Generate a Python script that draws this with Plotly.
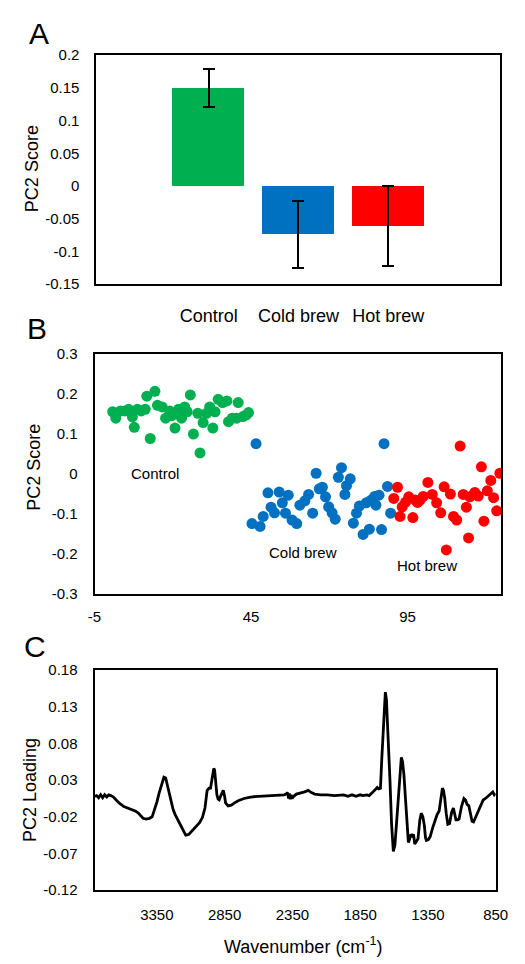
import plotly.graph_objects as go

# ---------------- Panel A data ----------------
categories = ["Control", "Cold brew", "Hot brew"]
bar_means = [0.150, -0.074, -0.061]
bar_errors = [0.029, 0.051, 0.061]
bar_colors = ["#00B050", "#0070C0", "#FF0000"]
a_ytickvals = [0.2, 0.15, 0.1, 0.05, 0, -0.05, -0.1, -0.15]
a_yticktext = ["0.2", "0.15", "0.1", "0.05", "0", "-0.05", "-0.1", "-0.15"]

# ---------------- Panel B data ----------------
control_x = [0.8, 1.8, 3.3, 4.7, 5.9, 7.1, 7.7, 8.7, 9.9, 11.2, 11.7, 12.8, 14.3, 15.1, 16.6, 17.7,
             19.0, 19.7, 20.7, 21.8, 22.8, 23.8, 24.6, 25.6, 26.6, 28.0, 28.7, 29.7, 30.8, 31.8,
             32.8, 33.5, 34.5, 35.9, 37.3, 37.8, 39.0, 40.4, 40.9, 42.4, 43.5, 44.2]
control_y = [0.155, 0.139, 0.157, 0.157, 0.161, 0.142, 0.116, 0.161, 0.157, 0.161, 0.194, 0.088,
             0.206, 0.171, 0.167, 0.139, 0.157, 0.145, 0.114, 0.161, 0.139, 0.167, 0.155, 0.197,
             0.099, 0.151, 0.052, 0.128, 0.151, 0.167, 0.114, 0.155, 0.186, 0.178, 0.182, 0.130,
             0.139, 0.139, 0.178, 0.143, 0.147, 0.153]
cold_x = [45.3, 46.6, 47.9, 48.9, 50.4, 51.4, 52.5, 54.0, 55.0, 56.0, 56.9, 58.1, 59.6, 60.6, 62.2,
          63.4, 64.7, 65.8, 66.8, 67.8, 68.8, 69.8, 70.9, 71.9, 72.9, 73.9, 75.0, 75.5, 76.7, 77.7,
          78.7, 79.6, 80.8, 81.8, 82.8, 83.4, 84.5, 84.9, 85.9, 86.7, 87.5, 88.6, 89.6]
cold_y = [-0.125, 0.075, -0.132, -0.107, -0.048, -0.084, -0.098, -0.046, -0.073, -0.099, -0.054,
          -0.116, -0.125, -0.079, -0.068, -0.052, -0.099, 0.001, -0.038, -0.034, -0.058, -0.083,
          -0.098, -0.114, -0.009, 0.015, -0.052, -0.030, -0.013, -0.124, -0.099, -0.081, -0.152,
          -0.073, -0.139, -0.066, -0.057, -0.079, -0.054, -0.140, 0.075, -0.032, -0.099]
hot_x = [90.6, 91.8, 92.6, 93.3, 94.4, 95.4, 96.7, 97.5, 98.2, 99.0, 100.0, 101.5, 102.9, 104.3,
         105.6, 106.7, 107.4, 108.7, 109.7, 110.7, 111.8, 112.8, 113.8, 114.5, 114.9, 116.5,
         117.6, 118.6, 119.4, 120.5, 121.6, 122.5, 123.5, 124.5]
hot_y = [-0.062, -0.034, -0.107, -0.083, -0.071, -0.058, -0.110, -0.066, -0.072, -0.066, -0.057,
         -0.022, -0.052, -0.073, -0.098, -0.033, -0.191, -0.051, -0.107, -0.116, 0.069, -0.052,
         -0.084, -0.161, -0.058, -0.047, -0.056, 0.017, -0.119, -0.043, -0.017, -0.060, -0.093,
         0.001]
b_xtickvals = [-5, 45, 95]
b_xticktext = ["-5", "45", "95"]
b_ytickvals = [0.3, 0.2, 0.1, 0, -0.1, -0.2, -0.3]
b_yticktext = ["0.3", "0.2", "0.1", "0", "-0.1", "-0.2", "-0.3"]
group_labels = ["Control", "Cold brew", "Hot brew"]
group_label_x = [14.3, 61.6, 101.1]
group_label_y = [0.0, -0.197, -0.229]

# ---------------- Panel C data ----------------
wavenumber = [3810, 3795, 3780, 3765, 3750, 3735, 3720, 3705, 3690, 3670, 3650, 3629, 3594, 3560,
              3535, 3510, 3487, 3465, 3452, 3430, 3405, 3385, 3369, 3350, 3334, 3315, 3298, 3285,
              3270, 3251, 3230, 3215, 3195, 3180, 3160, 3137, 3115, 3090, 3061, 3035, 3014, 2995,
              2979, 2965, 2954, 2945, 2938, 2930, 2924, 2915, 2907, 2898, 2890, 2880, 2872, 2860,
              2850, 2843, 2824, 2800, 2777, 2750, 2706, 2659, 2600, 2517, 2450, 2410, 2398, 2385,
              2378, 2372, 2366, 2360, 2352, 2340, 2320, 2292, 2260, 2233, 2210, 2185, 2140, 2091,
              2040, 1972, 1940, 1910, 1880, 1850, 1830, 1800, 1783, 1760, 1747, 1735, 1724, 1712,
              1700, 1690, 1680, 1672, 1664, 1656, 1648, 1640, 1630, 1618, 1605, 1593, 1582, 1573,
              1565, 1555, 1546, 1537, 1527, 1518, 1510, 1502, 1494, 1484, 1475, 1465, 1456, 1447,
              1435, 1423, 1410, 1399, 1387, 1376, 1368, 1361, 1347, 1333, 1315, 1297, 1282, 1267,
              1255, 1243, 1235, 1226, 1215, 1203, 1190, 1175, 1162, 1152, 1143, 1130, 1120, 1102,
              1084, 1072, 1061, 1048, 1035, 1024, 1013, 995, 978, 960, 942, 925, 907, 890, 871,
              860, 850]
loading = [0.008, 0.009, 0.006, 0.010, 0.006, 0.010, 0.007, 0.010, 0.009, 0.007, 0.003, -0.001,
           -0.006, -0.008, -0.010, -0.012, -0.015, -0.019, -0.022, -0.023, -0.022, -0.020, -0.012,
           0.000, 0.012, 0.025, 0.034, 0.033, 0.022, 0.004, -0.010, -0.017, -0.024, -0.030, -0.037,
           -0.045, -0.044, -0.039, -0.033, -0.028, -0.021, -0.008, 0.016, 0.019, 0.019, 0.030,
           0.043, 0.046, 0.044, 0.025, 0.010, 0.004, 0.003, 0.008, 0.012, 0.016, 0.008, -0.001,
           -0.005, -0.004, -0.001, 0.002, 0.005, 0.007, 0.008, 0.009, 0.009, 0.010, 0.011, 0.013,
           0.005, 0.012, 0.004, 0.010, 0.005, 0.008, 0.011, 0.012, 0.014, 0.016, 0.013, 0.011,
           0.010, 0.010, 0.009, 0.010, 0.008, 0.010, 0.008, 0.010, 0.009, 0.010, 0.009, 0.013,
           0.016, 0.019, 0.020, 0.018, 0.019, 0.060, 0.100, 0.135, 0.150, 0.140, 0.110, 0.080,
           0.030, -0.030, -0.067, -0.058, -0.030, -0.012, 0.005, 0.040, 0.061, 0.055, 0.038, 0.012,
           -0.010, -0.035, -0.055, -0.050, -0.044, -0.046, -0.044, -0.057, -0.054, -0.050, -0.025,
           -0.015, -0.020, -0.032, -0.048, -0.052, -0.051, -0.047, -0.035, -0.024, -0.017, -0.012,
           0.005, 0.019, 0.016, 0.006, -0.015, -0.030, -0.029, -0.014, -0.008, -0.018, -0.024,
           -0.024, -0.023, -0.006, 0.005, 0.003, -0.003, -0.005, -0.015, -0.026, -0.027, -0.019,
           -0.012, -0.004, 0.003, 0.005, 0.008, 0.010, 0.014, 0.010, 0.012]
c_xtickvals = [3350, 2850, 2350, 1850, 1350, 850]
c_xticktext = ["3350", "2850", "2350", "1850", "1350", "850"]
c_ytickvals = [0.18, 0.13, 0.08, 0.03, -0.02, -0.07, -0.12]
c_yticktext = ["0.18", "0.13", "0.08", "0.03", "-0.02", "-0.07", "-0.12"]

FONT = "Arial, Liberation Sans, sans-serif"
W, H = 525, 964

def px(x):
    return x / W

def py(y):
    return 1 - y / H

fig = go.Figure()

# Panel A bars
fig.add_trace(go.Bar(
    x=categories, y=bar_means, marker=dict(color=bar_colors, line=dict(width=0)),
    width=0.8,
    error_y=dict(type="data", array=bar_errors, color="black", thickness=2, width=6),
    xaxis="x", yaxis="y", showlegend=False))

# Panel B scatter
for xs, ys, col in [(control_x, control_y, "#00B050"), (cold_x, cold_y, "#0070C0"),
                    (hot_x, hot_y, "#FF0000")]:
    fig.add_trace(go.Scatter(x=xs, y=ys, mode="markers",
                             marker=dict(color=col, size=11, line=dict(width=0)),
                             xaxis="x2", yaxis="y2", showlegend=False))

# Panel C line
fig.add_trace(go.Scatter(x=wavenumber, y=loading, mode="lines",
                         line=dict(color="black", width=2.8),
                         xaxis="x3", yaxis="y3", showlegend=False))

axis_common = dict(showline=True, linecolor="black", linewidth=2, mirror=True,
                   showgrid=False, zeroline=False, ticks="",
                   tickfont=dict(family=FONT, size=15, color="black"))

fig.update_layout(
    width=W, height=H, margin=dict(l=0, r=0, t=0, b=0),
    paper_bgcolor="white", plot_bgcolor="white",
    font=dict(family=FONT, color="black"),
    bargap=0,
    xaxis=dict(domain=[px(93), px(513)], anchor="y", range=[-1.25, 3.25],
               ticklabelstandoff=14, **{**axis_common, "tickfont": dict(family=FONT, size=18, color="black")}),
    yaxis=dict(domain=[py(280), py(47)], anchor="x", range=[-0.15, 0.2],
               tickvals=a_ytickvals, ticktext=a_yticktext, ticklabelstandoff=12, **axis_common),
    xaxis2=dict(domain=[px(91), px(514)], anchor="y2", range=[-5, 125],
                tickvals=b_xtickvals, ticktext=b_xticktext, ticklabelstandoff=8, **axis_common),
    yaxis2=dict(domain=[py(595), py(351)], anchor="x2", range=[-0.3, 0.3],
                tickvals=b_ytickvals, ticktext=b_yticktext, ticklabelstandoff=12, **axis_common),
    xaxis3=dict(domain=[px(91), px(508)], anchor="y3", range=[3810, 850],
                tickvals=c_xtickvals, ticktext=c_xticktext, ticklabelstandoff=10, **axis_common),
    yaxis3=dict(domain=[py(897), py(673)], anchor="x3", range=[-0.12, 0.18],
                tickvals=c_ytickvals, ticktext=c_yticktext, ticklabelstandoff=12, **axis_common),
)

annotations = []
# group labels in panel B
for t, gx, gy in zip(group_labels, group_label_x, group_label_y):
    annotations.append(dict(text=t, x=gx, y=gy, xref="x2", yref="y2", showarrow=False,
                            font=dict(family=FONT, size=15, color="black"),
                            xanchor="center", yanchor="middle"))
# panel letters
for t, lx, ly in [("A", 33, 25), ("B", 31, 325), ("C", 29, 649)]:
    annotations.append(dict(text=t, x=px(lx), y=py(ly), xref="paper", yref="paper",
                            showarrow=False, font=dict(family=FONT, size=30, color="black"),
                            xanchor="center", yanchor="middle"))
# axis titles
for t, lx, ly in [("PC2 Score", 26, 163), ("PC2 Score", 28, 466), ("PC2 Loading", 24, 795)]:
    annotations.append(dict(text=t, x=px(lx), y=py(ly), xref="paper", yref="paper",
                            showarrow=False, textangle=-90,
                            font=dict(family=FONT, size=18, color="black"),
                            xanchor="center", yanchor="middle"))
annotations.append(dict(text="Wavenumber (cm<sup>-1</sup>)", x=px(308), y=py(953),
                        xref="paper", yref="paper", showarrow=False,
                        font=dict(family=FONT, size=18, color="black"),
                        xanchor="center", yanchor="middle"))
fig.update_layout(annotations=annotations)

fig.write_html("out.html")
